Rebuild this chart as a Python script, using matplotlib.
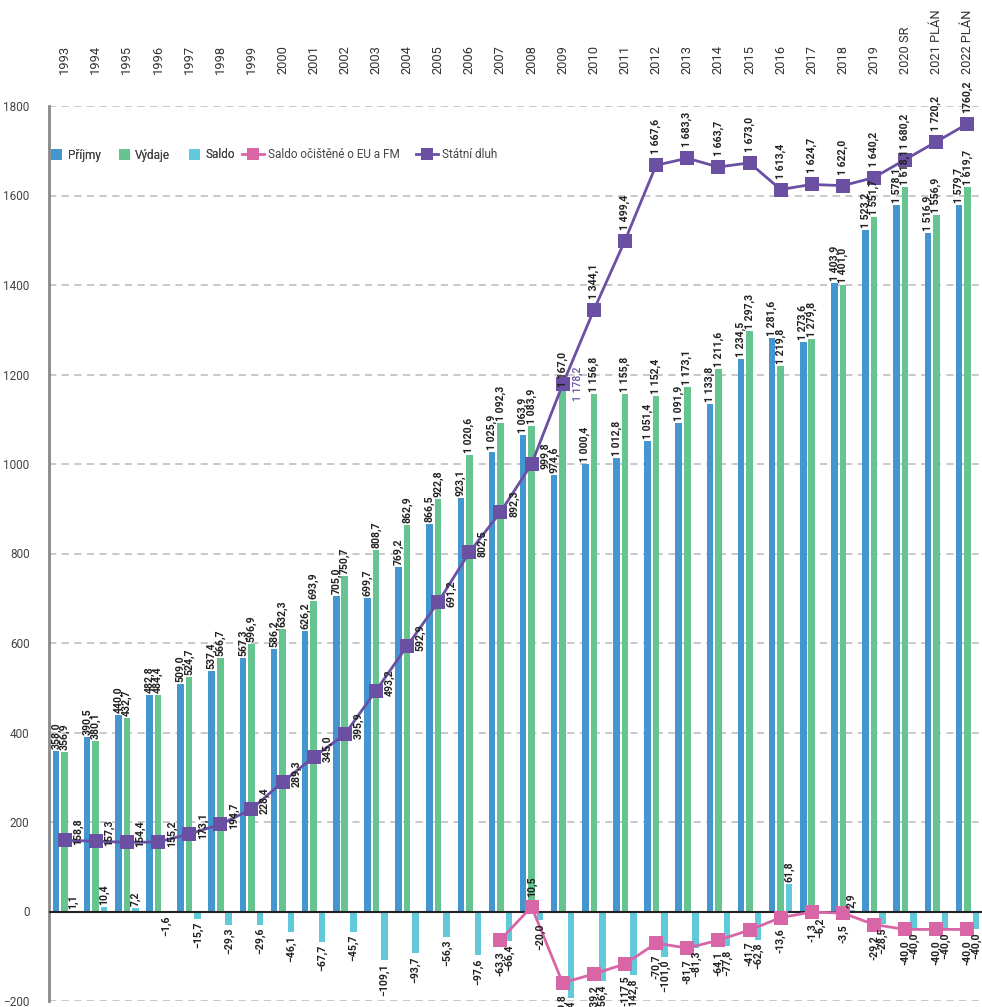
import matplotlib
matplotlib.use("Agg")
import matplotlib.pyplot as plt
import matplotlib.transforms as mtransforms
from matplotlib.patches import Patch
from matplotlib.lines import Line2D
import numpy as np

plt.rcParams['font.family'] = ['Roboto', 'DejaVu Sans']

years = ["1993", "1994", "1995", "1996", "1997", "1998", "1999", "2000", "2001", "2002",
         "2003", "2004", "2005", "2006", "2007", "2008", "2009", "2010", "2011", "2012",
         "2013", "2014", "2015", "2016", "2017", "2018", "2019", "2020 SR", "2021 PLÁN", "2022 PLÁN"]

prijmy = [358.0, 390.5, 440.0, 482.8, 509.0, 537.4, 567.3, 586.2, 626.2, 705.0,
          699.7, 769.2, 866.5, 923.1, 1025.9, 1063.9, 974.6, 1000.4, 1012.8, 1051.4,
          1091.9, 1133.8, 1234.5, 1281.6, 1273.6, 1403.9, 1523.2, 1578.1, 1516.9, 1579.7]

vydaje = [356.9, 380.1, 432.7, 484.4, 524.7, 566.7, 596.9, 632.3, 693.9, 750.7,
          808.7, 862.9, 922.8, 1020.6, 1092.3, 1083.9, 1167.0, 1156.8, 1155.8, 1152.4,
          1173.1, 1211.6, 1297.3, 1219.8, 1279.8, 1401.0, 1551.7, 1618.1, 1556.9, 1619.7]

saldo = [1.1, 10.4, 7.2, -1.6, -15.7, -29.3, -29.6, -46.1, -67.7, -45.7,
         -109.1, -93.7, -56.3, -97.6, -66.4, -20.0, -192.4, -156.4, -142.8, -101.0,
         -81.3, -77.8, -62.8, 61.8, -6.2, 2.9, -28.5, -40.0, -40.0, -40.0]

saldo_ocistene = [None] * 14 + [-63.3, 10.5, -159.8, -139.2, -117.5, -70.7,
                                -81.7, -64.1, -41.7, -13.6, -1.3, -3.5, -29.2, -40.0, -40.0, -40.0]

statni_dluh = [158.8, 157.3, 154.4, 155.2, 173.1, 194.7, 228.4, 289.3, 345.0, 395.9,
               493.2, 592.9, 691.2, 802.5, 892.3, 999.8, 1178.2, 1344.1, 1499.4, 1667.6,
               1683.3, 1663.7, 1673.0, 1613.4, 1624.7, 1622.0, 1640.2, 1680.2, 1720.2, 1760.2]

series_names = ["Příjmy", "Výdaje", "Saldo", "Saldo očištěné o EU a FM", "Státní dluh"]

C_BLUE = "#4496d1"
C_GREEN = "#65c48f"
C_CYAN = "#62c9da"
C_PINK = "#d865a6"
C_PURPLE = "#6a4fa3"
TXT = "#222222"

W, H = 982, 1007
fig = plt.figure(figsize=(W / 100, H / 100), dpi=100)
ax = fig.add_axes([49 / W, 6 / H, 934 / W, 895 / H])

x = np.arange(len(years))
bw = 0.21
off = 0.273

ax.bar(x - off, prijmy, bw, color=C_BLUE, zorder=2)
ax.bar(x, vydaje, bw, color=C_GREEN, zorder=2)
ax.bar(x + off, saldo, bw, color=C_CYAN, zorder=2)

so = np.array([np.nan if v is None else v for v in saldo_ocistene], dtype=float)
ax.plot(x, so, color=C_PINK, lw=2, marker="s", ms=10, mew=0, zorder=4)
ax.plot(x, statni_dluh, color=C_PURPLE, lw=2, marker="s", ms=10, mew=0, zorder=5)

ax.set_xlim(-0.5, len(years) - 0.5)
ax.set_ylim(-200, 1800)
ax.set_yticks(np.arange(-200, 1801, 200))
ax.tick_params(axis="y", length=0, pad=14, labelsize=8.5, labelcolor="#444444")
ax.xaxis.tick_top()
ax.set_xticks(x)
ax.set_xticklabels(years, rotation=90, fontsize=9.3, color="#333333")
ax.tick_params(axis="x", length=0, pad=23)

ax.set_axisbelow(True)
ax.yaxis.grid(True, linestyle=(0, (4, 3)), color="#c4c4c4", lw=1.3)
ax.axhline(0, color="#222222", lw=1.5, zorder=3)
for s in ["top", "right", "bottom"]:
    ax.spines[s].set_visible(False)
ax.spines["left"].set_color("#888888")
ax.spines["left"].set_linewidth(2)


def fmt(v, minus="−", sep=" "):
    s = f"{abs(v):,.1f}".replace(",", "X").replace(".", ",").replace("X", sep)
    return (minus + s) if v < 0 else s


def tr(dx=0, dy=0):
    return mtransforms.offset_copy(ax.transData, fig=fig, x=dx, y=dy, units="dots")


lab_kw = dict(rotation=90, fontsize=7.6, fontweight="bold", color=TXT, zorder=6)

for i in range(len(years)):
    # bar labels
    ax.text(x[i] - off, prijmy[i], fmt(prijmy[i]), transform=tr(0, 2), ha="center", va="bottom", **lab_kw)
    ax.text(x[i], vydaje[i], fmt(vydaje[i]), transform=tr(0, 2), ha="center", va="bottom", **lab_kw)
    if saldo[i] >= 0:
        ax.text(x[i] + off, saldo[i], fmt(saldo[i]), transform=tr(0, 2), ha="center", va="bottom", **lab_kw)
    else:
        ax.text(x[i] + off, saldo[i], fmt(saldo[i]), transform=tr(0, -3), ha="center", va="top", **lab_kw)
    # debt labels
    d = statni_dluh[i]
    dl = fmt(d, sep="") if i == len(years) - 1 else fmt(d)
    if i <= 15:
        ax.text(x[i], d, dl, transform=tr(13.5, -5), ha="center", va="bottom", **lab_kw)
    elif i == 16:
        ax.text(x[i], d, dl, transform=tr(15, 0), ha="center", va="center", rotation=90,
                fontsize=7.6, fontweight="medium", color=C_PURPLE, zorder=6)
    else:
        ax.text(x[i], d, dl, transform=tr(0, 11), ha="center", va="bottom", **lab_kw)
    # pink labels
    if not np.isnan(so[i]):
        if so[i] >= 0:
            ax.text(x[i], so[i], fmt(so[i], minus="-"), transform=tr(0, 10), ha="center", va="bottom", **lab_kw)
        else:
            ax.text(x[i], so[i], fmt(so[i], minus="-"), transform=tr(0, -11), ha="center", va="top", **lab_kw)

# legends
leg_fs = 8.5
h1 = [Patch(facecolor=C_BLUE), Patch(facecolor=C_GREEN), Patch(facecolor=C_CYAN)]
leg1 = fig.legend(h1, series_names[:3], loc="center left", bbox_to_anchor=(51 / W, 1 - 155 / H),
                  ncol=3, frameon=False, fontsize=leg_fs, handlelength=0.95, handleheight=0.95,
                  handletextpad=0.45, columnspacing=1.55, borderpad=0, borderaxespad=0,
                  labelcolor="#444444")
h2 = [Line2D([], [], color=C_PINK, lw=2, marker="s", ms=8, mew=0),
      Line2D([], [], color=C_PURPLE, lw=2, marker="s", ms=8, mew=0)]
leg2 = fig.legend(h2, series_names[3:], loc="center left", bbox_to_anchor=(242 / W, 1 - 155 / H),
                  ncol=2, frameon=False, fontsize=leg_fs, handlelength=1.9,
                  handletextpad=0.3, columnspacing=1.35, borderpad=0, borderaxespad=0,
                  labelcolor="#444444")
fig.add_artist(leg1)

fig.savefig("out.png", dpi=100)
